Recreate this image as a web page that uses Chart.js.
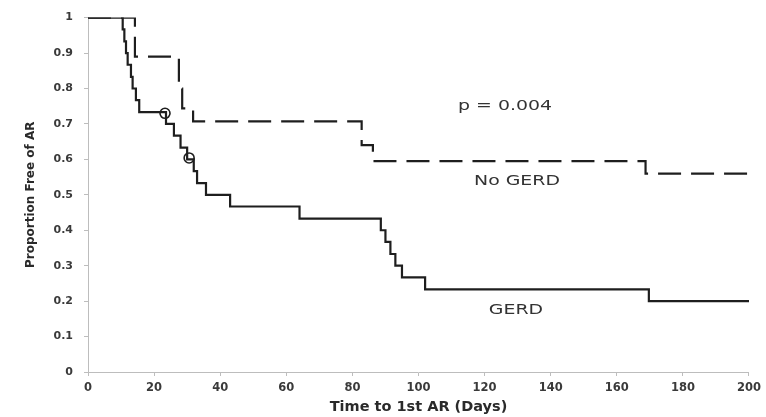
<!DOCTYPE html>
<html>
<head>
<meta charset="utf-8">
<script src="https://cdn.jsdelivr.net/npm/chart.js@4"></script>
<style>
  html, body { margin: 0; padding: 0; background: #fff; }
  #wrap { width: 766px; height: 417px; }
</style>
</head>
<body>
<div id="wrap"><canvas id="km"></canvas></div>
<script>
// Kaplan-Meier curves: days and proportion free of AR (step after each day)
const gerdDays   = [0, 10.5, 11, 11.5, 12, 13, 13.5, 14.5, 15.5, 23.6, 26, 28, 30, 32, 33, 35.7, 43, 64, 88.6, 90, 91.5, 93, 95, 102, 169.7, 200];
const gerdValues = [1, 0.967, 0.933, 0.9, 0.867, 0.833, 0.8, 0.767, 0.733, 0.7, 0.667, 0.633, 0.6, 0.567, 0.533, 0.5, 0.467, 0.433, 0.4, 0.367, 0.333, 0.3, 0.267, 0.233, 0.2, 0.2];

const noGerdDays   = [0, 14.2, 27.5, 28.5, 31.8, 82.8, 86.2, 168.7, 200];
const noGerdValues = [1, 0.89, 0.8, 0.744, 0.707, 0.64, 0.595, 0.56, 0.56];

// censored observations (circles)
const censorDays   = [23.3, 30.6];
const censorValues = [0.73, 0.604];

const xTicks = [0, 20, 40, 60, 80, 100, 120, 140, 160, 180, 200];
const yTicks = [0, 0.1, 0.2, 0.3, 0.4, 0.5, 0.6, 0.7, 0.8, 0.9, 1];

const notes = [
  { text: 'p = 0.004', x: 126.2, y: 0.75 },
  { text: 'No GERD',   x: 129.8, y: 0.537 },
  { text: 'GERD',      x: 129.5, y: 0.173 }
];

function pts(xs, ys) {
  return xs.map((x, i) => ({ x: x, y: ys[i] }));
}

// free text on the plot, slightly stretched like the original figure
const noteLabels = {
  id: 'noteLabels',
  afterDatasetsDraw(chart) {
    const c = chart.ctx;
    const xs = chart.scales.x, ys = chart.scales.y;
    notes.forEach(n => {
      c.save();
      c.translate(xs.getPixelForValue(n.x), ys.getPixelForValue(n.y));
      c.scale(1.35, 1);
      c.font = '14px "DejaVu Sans", sans-serif';
      c.fillStyle = '#333';
      c.textAlign = 'center';
      c.textBaseline = 'middle';
      c.fillText(n.text, 0, 0);
      c.restore();
    });
  }
};

const fam = '"DejaVu Sans", sans-serif';
const axisGray = '#bdbdbd';

new Chart(document.getElementById('km'), {
  type: 'line',
  data: {
    datasets: [
      {
        label: 'GERD',
        data: pts(gerdDays, gerdValues),
        stepped: 'before',
        borderColor: '#1e1e1e',
        borderWidth: 2.2,
        pointRadius: 0,
        fill: false
      },
      {
        label: 'No GERD',
        data: pts(noGerdDays, noGerdValues),
        stepped: 'before',
        borderColor: '#1e1e1e',
        borderWidth: 2.2,
        borderDash: [23, 10],
        pointRadius: 0,
        fill: false
      },
      {
        label: 'Censored',
        type: 'scatter',
        data: pts(censorDays, censorValues),
        showLine: false,
        pointStyle: 'circle',
        pointRadius: 5,
        pointBorderWidth: 1.6,
        pointBorderColor: '#1e1e1e',
        pointBackgroundColor: 'rgba(0,0,0,0)'
      }
    ]
  },
  options: {
    responsive: true,
    maintainAspectRatio: false,
    animation: false,
    layout: { autoPadding: false, padding: { left: 24, right: 17, top: 13, bottom: 1 } },
    plugins: {
      legend: { display: false },
      tooltip: { enabled: false }
    },
    scales: {
      x: {
        type: 'linear',
        min: 0,
        max: 200,
        afterBuildTicks: s => { s.ticks = xTicks.map(v => ({ value: v })); },
        afterFit: s => { s.height = 44; },
        grid: { display: true, drawOnChartArea: false, tickLength: 4, color: axisGray },
        border: { color: axisGray, width: 1 },
        ticks: { font: { family: fam, size: 11.5, weight: 'bold' }, color: '#3a3a3a', padding: 5, maxRotation: 0 },
        title: {
          display: true,
          text: 'Time to 1st AR (Days)',
          font: { family: fam, size: 14.5, weight: 'bold' },
          color: '#2a2a2a',
          padding: { top: 0, bottom: 0 }
        }
      },
      y: {
        min: 0,
        max: 1,
        afterBuildTicks: s => { s.ticks = yTicks.map(v => ({ value: v })); },
        afterFit: s => { s.width = 64; },
        grid: { display: true, drawOnChartArea: false, tickLength: 4, color: axisGray },
        border: { color: axisGray, width: 1 },
        ticks: {
          font: { family: fam, size: 11, weight: 'bold' },
          color: '#3a3a3a',
          padding: 11,
          callback: v => (v === 0 || v === 1) ? String(v) : v.toFixed(1)
        },
        title: {
          display: true,
          text: 'Proportion Free of AR',
          font: { family: fam, size: 12, weight: 'bold' },
          color: '#2a2a2a',
          padding: { top: 0, bottom: 0 }
        }
      }
    }
  },
  plugins: [noteLabels]
});
</script>
</body>
</html>
